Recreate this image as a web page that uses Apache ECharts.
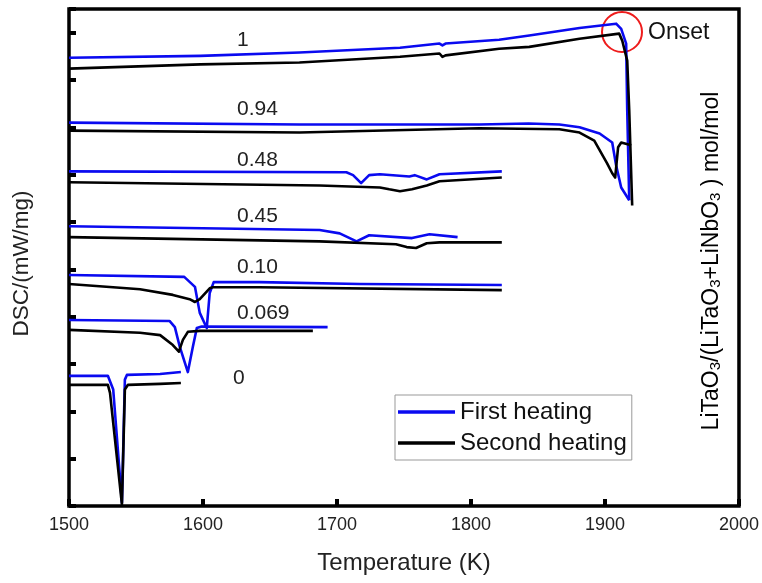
<!DOCTYPE html>
<html>
<head>
<meta charset="utf-8">
<script src="https://cdn.jsdelivr.net/npm/echarts@6/dist/echarts.min.js"></script>
<style>
  html, body { margin: 0; padding: 0; background: #fff; }
  #main { width: 762px; height: 583px; }
</style>
</head>
<body>
<div id="main"></div>
<script>
// [temperature K, DSC (arbitrary offset units)]
var first1 = [[1500,9.47],[1598,9.51],[1672,9.58],[1747,9.68],[1776.5,9.77],[1778.7,9.73],[1781,9.77],[1821,9.85],[1843.5,9.94],[1881,10.10],[1908.3,10.19],[1912.1,10.08],[1915.8,9.77],[1916.6,8.36],[1918.1,6.46]];
var second1 = [[1500,9.24],[1598,9.33],[1672,9.37],[1747,9.49],[1776.5,9.56],[1778.7,9.49],[1781,9.52],[1821,9.66],[1843.5,9.70],[1881,9.87],[1910.6,9.98],[1912.9,9.83],[1916.6,9.41],[1918.1,8.36],[1920.3,6.35]];

var first094 = [[1500,8.10],[1672,8.06],[1806,8.06],[1843,8.08],[1866,8.06],[1881,8.00],[1896,7.87],[1905.4,7.68],[1908.3,7.20],[1912.1,6.73],[1918.1,6.46]];
var second094 = [[1500,7.93],[1672,7.89],[1806,7.98],[1866,7.96],[1881,7.89],[1892,7.72],[1901.6,7.24],[1905.4,7.03],[1907.6,6.94],[1909.8,7.58],[1912.1,7.68],[1919.6,7.62]];

var first048 = [[1500,7.07],[1707,7.05],[1712,6.99],[1718,6.82],[1724,6.99],[1732,7.01],[1754,6.96],[1758,6.99],[1767,6.90],[1776.5,7.01],[1823,7.07]];
var second048 = [[1500,6.84],[1687,6.77],[1732,6.73],[1739,6.69],[1747,6.65],[1756,6.69],[1767,6.77],[1776.5,6.86],[1823,6.94]];

var first045 = [[1500,5.91],[1687,5.83],[1702,5.76],[1714.6,5.59],[1724,5.72],[1756,5.66],[1769,5.74],[1790,5.68]];
var second045 = [[1500,5.68],[1687,5.59],[1744,5.53],[1752,5.47],[1759,5.45],[1767,5.55],[1776.5,5.57],[1823,5.57]];

var first010 = [[1500,4.88],[1586,4.84],[1594,4.63],[1597.6,4.08],[1602.8,3.76],[1605,4.50],[1608,4.73],[1642,4.73],[1717,4.69],[1823,4.67]];
var second010 = [[1500,4.69],[1543,4.60],[1553,4.58],[1577.5,4.46],[1590,4.37],[1594,4.31],[1597.6,4.37],[1605,4.60],[1607.3,4.62],[1642,4.62],[1823,4.56]];

var first0069 = [[1500,3.93],[1575,3.91],[1579,3.78],[1582.7,3.36],[1588.7,2.83],[1592.4,3.36],[1595.4,3.76],[1599,3.79],[1693,3.78]];
var second0069 = [[1500,3.72],[1553,3.66],[1568,3.61],[1577.5,3.40],[1582,3.26],[1585,3.51],[1588.7,3.68],[1597.6,3.70],[1682,3.70]];

var first0 = [[1500,2.75],[1529,2.75],[1533,2.46],[1539.5,0.07],[1541.7,2.67],[1543.2,2.77],[1568,2.79],[1583.5,2.83]];
var second0 = [[1500,2.56],[1529,2.56],[1530.6,2.39],[1539.5,0.03],[1541.7,2.46],[1544,2.56],[1568,2.58],[1583.5,2.60]];

var compositions = ["1", "0.94", "0.48", "0.45", "0.10", "0.069", "0"];
var firstRuns = [first1, first094, first048, first045, first010, first0069, first0];
var secondRuns = [second1, second094, second048, second045, second010, second0069, second0];

var FONT = "Liberation Sans, Arial, sans-serif";
var myChart = echarts.init(document.getElementById("main"));

function lineSeries(name, data, color) {
  return {
    name: name,
    type: "line",
    data: data,
    showSymbol: false,
    silent: true,
    lineStyle: { color: color, width: 2.6, join: "round" },
    itemStyle: { color: color }
  };
}

var series = [];
firstRuns.forEach(function(d) { series.push(lineSeries("First heating", d, "#0a0af0")); });
secondRuns.forEach(function(d) { series.push(lineSeries("Second heating", d, "#000")); });

// curve labels (left edge x, centre y in px)
var labelPos = [[237, 40], [237, 109], [237, 160], [237, 216], [237, 267], [237, 313], [233, 378]];
var graphics = compositions.map(function(c, i) {
  return {
    type: "text",
    x: labelPos[i][0],
    y: labelPos[i][1],
    style: { text: c, font: "21px " + FONT, fill: "#222", textAlign: "left", textVerticalAlign: "middle" }
  };
});
graphics.push({
  type: "circle",
  shape: { cx: 622, cy: 32, r: 20 },
  style: { fill: "none", stroke: "#ee1c1c", lineWidth: 2 }
});
graphics.push({
  type: "text",
  x: 648,
  y: 33,
  style: { text: "Onset", font: "23px " + FONT, fill: "#111", textAlign: "left", textVerticalAlign: "middle" }
});
graphics.push({
  type: "text",
  x: 712,
  y: 261,
  rotation: Math.PI / 2,
  style: {
    text: "{m|LiTaO}{s|3}{m|/(LiTaO}{s|3}{m|+LiNbO}{s|3}{m| ) mol/mol}",
    textAlign: "center",
    textVerticalAlign: "middle",
    rich: {
      m: { fontSize: 23, fontFamily: FONT, color: "#111", lineHeight: 23 },
      s: { fontSize: 15, fontFamily: FONT, color: "#111", lineHeight: 13, verticalAlign: "bottom", padding: [8, 0, 0, 0] }
    }
  }
});

var option = {
  animation: false,
  backgroundColor: "#fff",
  grid: {
    left: 69,
    right: 22,
    top: 9,
    bottom: 77,
    show: true,
    borderColor: "#000",
    borderWidth: 3.5
  },
  legend: {
    left: 395,
    top: 395,
    orient: "vertical",
    selectedMode: false,
    data: [
      { name: "First heating", icon: "rect", itemStyle: { color: "#0a0af0" } },
      { name: "Second heating", icon: "rect" }
    ],
    itemWidth: 57,
    itemHeight: 3.5,
    itemGap: 7,
    padding: [5, 5, 5, 3],
    borderColor: "#999",
    borderWidth: 1,
    textStyle: { fontSize: 24, fontFamily: FONT, color: "#111", lineHeight: 23 }
  },
  xAxis: {
    type: "value",
    min: 1500,
    max: 2000,
    interval: 100,
    name: "Temperature (K)",
    nameLocation: "middle",
    nameGap: 45,
    nameTextStyle: { fontSize: 24, fontFamily: FONT, color: "#222" },
    axisLine: { show: false },
    axisTick: { inside: true, length: 7, lineStyle: { color: "#000", width: 4 } },
    axisLabel: {
      fontSize: 18,
      fontFamily: FONT,
      color: "#222",
      margin: 10,
      formatter: function(v) { return String(v); }
    },
    splitLine: { show: false }
  },
  yAxis: {
    type: "value",
    min: 0,
    max: 10.5,
    interval: 1,
    name: "DSC/(mW/mg)",
    nameLocation: "middle",
    nameGap: 36,
    nameTextStyle: { fontSize: 22.5, fontFamily: FONT, color: "#222", padding: [0, 12, 0, 0] },
    axisLine: { show: false },
    axisTick: { inside: true, length: 7, lineStyle: { color: "#000", width: 4 } },
    axisLabel: { show: false },
    splitLine: { show: false }
  },
  series: series,
  graphic: graphics
};
myChart.setOption(option);
</script>
</body>
</html>
